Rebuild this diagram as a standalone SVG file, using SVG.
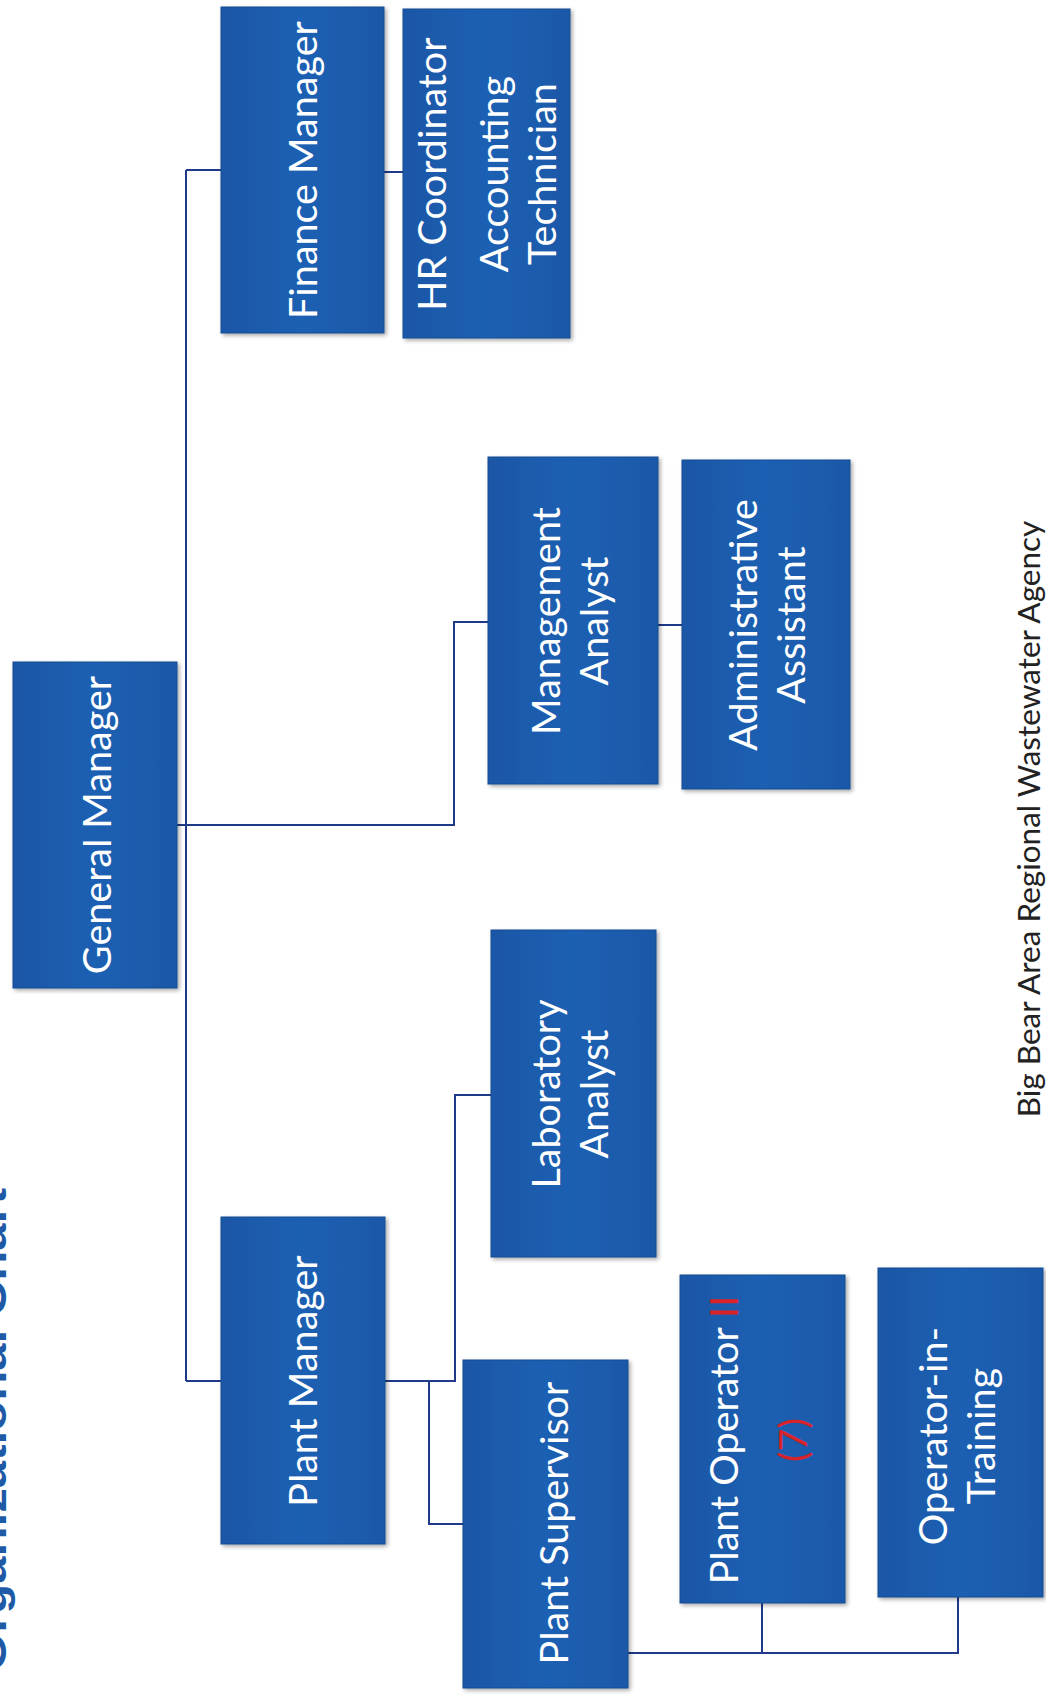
<svg xmlns="http://www.w3.org/2000/svg" width="1046" height="1702" viewBox="0 0 1046 1702">
<defs>
<linearGradient id="bx" x1="0" y1="0" x2="1" y2="0">
<stop offset="0" stop-color="#1a56a6"/>
<stop offset="0.5" stop-color="#1d60b3"/>
<stop offset="1" stop-color="#1a58a8"/>
</linearGradient>
<filter id="sh" x="-10%" y="-10%" width="130%" height="130%">
<feGaussianBlur in="SourceAlpha" stdDeviation="2"/>
<feOffset dx="2" dy="2" result="b"/>
<feComponentTransfer><feFuncA type="linear" slope="0.35"/></feComponentTransfer>
<feMerge><feMergeNode/><feMergeNode in="SourceGraphic"/></feMerge>
</filter>
</defs>
<style>
.box{fill:url(#bx);stroke:#174c92;stroke-width:1;filter:url(#sh)}
.lbl{font-family:Lato,"Open Sans",sans-serif;font-size:39.5px;fill:#ffffff;text-anchor:middle}
.red{fill:#d8232a}
.con{fill:none;stroke:#1f3a8a;stroke-width:2}
.foot{font-family:Lato,"Open Sans",sans-serif;font-size:31.5px;fill:#222222;text-anchor:middle}
.title{font-family:"Liberation Sans",Arial,sans-serif;font-weight:bold;font-size:42px;fill:#1f5aa6}
</style>
<rect width="1046" height="1702" fill="#ffffff"/>
<text class="title" transform="translate(6,1671) rotate(-90)" x="0" y="0" textLength="483" lengthAdjust="spacingAndGlyphs">Organizational Chart</text>
<g id="connectors">
<path class="con" d="M186 170 V1381"/>
<path class="con" d="M186 170 H221"/>
<path class="con" d="M186 1381 H221"/>
<path class="con" d="M177 825 H454 V622 H488"/>
<path class="con" d="M658 625 H682"/>
<path class="con" d="M384 172 H403"/>
<path class="con" d="M385 1381 H455 V1095 H491"/>
<path class="con" d="M429 1381 V1524 H463"/>
<path class="con" d="M628 1653 H958 V1597"/>
<path class="con" d="M762 1653 V1603"/>
</g>
<g id="general-manager">
<rect class="box" x="13" y="662" width="164" height="326"/>
<text class="lbl" transform="translate(111,825) rotate(-90)">General Manager</text>
</g>
<g id="finance-manager">
<rect class="box" x="221" y="7" width="163" height="326"/>
<text class="lbl" transform="translate(317,170) rotate(-90)">Finance Manager</text>
</g>
<g id="hr-coordinator">
<rect class="box" x="403" y="9" width="167" height="329"/>
<text class="lbl" transform="translate(446,174) rotate(-90)"><tspan x="0" y="0">HR Coordinator</tspan><tspan x="0" y="62">Accounting</tspan><tspan x="0" y="110">Technician</tspan></text>
</g>
<g id="management-analyst">
<rect class="box" x="488" y="457" width="170" height="327"/>
<text class="lbl" transform="translate(560,621) rotate(-90)"><tspan x="0" y="0">Management</tspan><tspan x="0" y="48">Analyst</tspan></text>
</g>
<g id="administrative-assistant">
<rect class="box" x="682" y="460" width="168" height="329"/>
<text class="lbl" transform="translate(757,625) rotate(-90)"><tspan x="0" y="0">Administrative</tspan><tspan x="0" y="48">Assistant</tspan></text>
</g>
<g id="laboratory-analyst">
<rect class="box" x="491" y="930" width="165" height="327"/>
<text class="lbl" transform="translate(560,1094) rotate(-90)"><tspan x="0" y="0">Laboratory</tspan><tspan x="0" y="48">Analyst</tspan></text>
</g>
<g id="plant-manager">
<rect class="box" x="221" y="1217" width="164" height="327"/>
<text class="lbl" transform="translate(317,1381) rotate(-90)">Plant Manager</text>
</g>
<g id="plant-supervisor">
<rect class="box" x="463" y="1360" width="165" height="328"/>
<text class="lbl" transform="translate(568,1523) rotate(-90)">Plant Supervisor</text>
</g>
<g id="plant-operator">
<rect class="box" x="680" y="1275" width="165" height="328"/>
<text class="lbl" transform="translate(738,1440) rotate(-90)"><tspan x="0" y="0">Plant Operator <tspan class="red">II</tspan></tspan><tspan x="0" y="69" class="red">(7)</tspan></text>
</g>
<g id="operator-in-training">
<rect class="box" x="878" y="1268" width="165" height="329"/>
<text class="lbl" transform="translate(947,1436) rotate(-90)"><tspan x="0" y="0">Operator-in-</tspan><tspan x="0" y="48">Training</tspan></text>
</g>
<text class="foot" transform="translate(1040,819) rotate(-90)">Big Bear Area Regional Wastewater Agency</text>
</svg>
